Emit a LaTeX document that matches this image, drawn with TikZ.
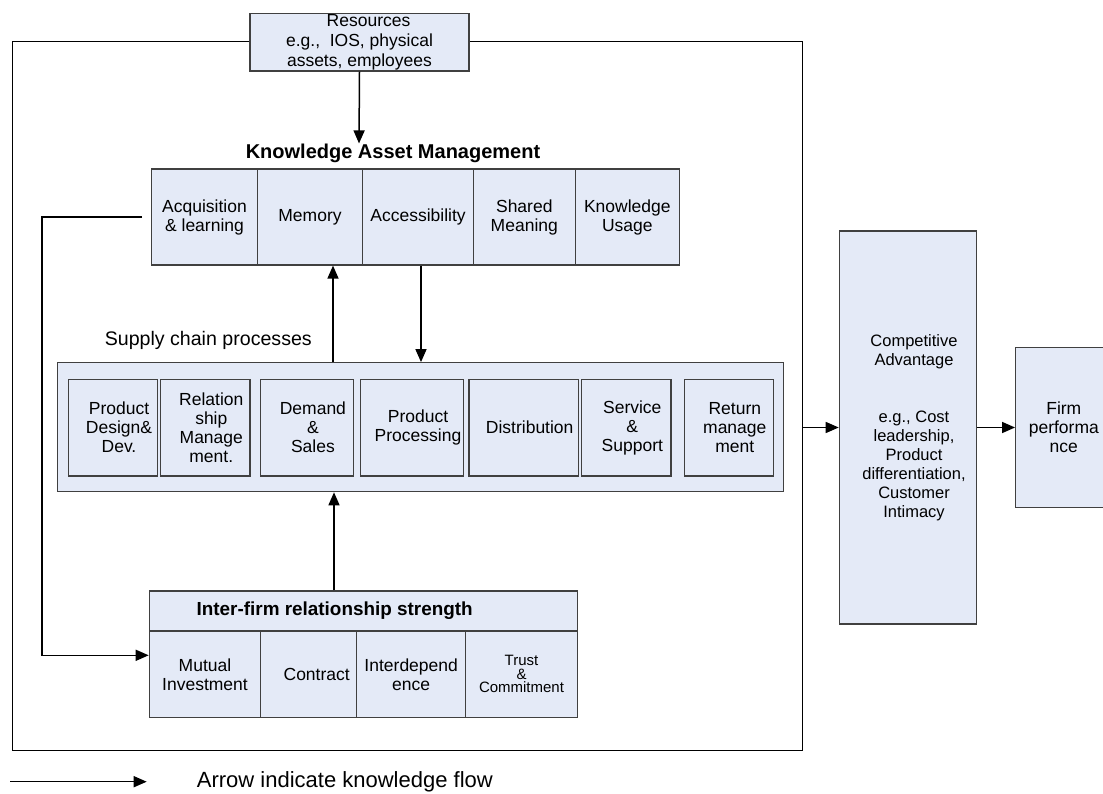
\documentclass[tikz,border=0pt]{standalone}
\usepackage{fontspec}
\setmainfont{Liberation Sans}
\usetikzlibrary{arrows.meta}
\definecolor{boxfill}{RGB}{228,234,247}
\definecolor{boxline}{RGB}{64,64,64}
\begin{document}
\begin{tikzpicture}[x=1pt,y=-1pt,
  cell/.style={draw=boxline, fill=boxfill, line width=1.2pt, inner sep=0pt,
    align=center, font=\fontsize{17.5}{19}\selectfont},
  celltext/.style={align=center, inner sep=0pt, xshift=6pt, font=\fontsize{17.5}{19}\selectfont},
  flow/.style={-{Triangle[length=13pt,width=11pt]}, line width=1.5pt},
  frameline/.style={line width=1pt},
  heading/.style={inner sep=0pt, font=\fontsize{20}{24}\selectfont\bfseries},
  caption/.style={inner sep=0pt, font=\fontsize{19.6}{23}\selectfont},
]
\useasboundingbox (0,0) rectangle (1103,794);

% resources on top of the firm boundary
\node[cell, font=\fontsize{17.5}{20}\selectfont, minimum width=219pt, minimum height=57.7pt]
  (res) at (359.5,42.2) {\hspace*{18pt}Resources\\e.g.,\ \ IOS, physical\\assets, employees};

% firm boundary
\coordinate (ftl) at (12.3,41.7);
\coordinate (fbl) at (12.3,750);
\coordinate (fbr) at (802,750);
\coordinate (ftr) at (802,41.7);
\draw[frameline] (res.west |- ftl) -- (ftl) -- (fbl) -- (fbr) -- (ftr) -- (res.east |- ftr);

% knowledge asset management
\node[heading] (kamt) at (393,153) {Knowledge Asset Management};
\node[cell, minimum width=105.6pt, minimum height=96pt] (acq) at (204.5,217) {Acquisition\\\& learning};
\node[cell, minimum width=105.4pt, minimum height=96pt] (mem) at (310,217) {Memory};
\node[cell, minimum width=110.6pt, minimum height=96pt] (acc) at (418,217) {Accessibility};
\node[cell, minimum width=102pt, minimum height=96pt] (shm) at (524.3,217) {Shared\\Meaning};
\node[cell, minimum width=104pt, minimum height=96pt] (ku) at (627.3,217) {Knowledge\\Usage};

% supply chain processes
\node[caption] (scpt) at (208.3,340) {Supply chain processes};
\node[cell, minimum width=726pt, minimum height=129pt] (scp) at (420.3,427.2) {};
\node[cell, minimum width=89.4pt, minimum height=96.7pt, label={[celltext]center:{Product\\Design\&\\Dev.}}] (pdd) at (113,427.7) {};
\node[cell, minimum width=89.3pt, minimum height=96.7pt, label={[celltext]center:{Relation\\ship\\Manage\\ment.}}] (rsm) at (205.3,427.7) {};
\node[cell, minimum width=92.5pt, minimum height=96.7pt, label={[celltext]center:{Demand\\\&\\Sales}}] (ds) at (306.9,427.7) {};
\node[cell, minimum width=102.6pt, minimum height=96.7pt, label={[celltext]center:{Product\\Processing}}] (pp) at (412,427.7) {};
\node[cell, minimum width=109.3pt, minimum height=96.7pt, label={[celltext]center:{Distribution}}] (dist) at (523.7,427.7) {};
\node[cell, minimum width=89.3pt, minimum height=96.7pt, label={[celltext]center:{Service\\\&\\Support}}] (ss) at (626.3,427.7) {};
\node[cell, minimum width=89pt, minimum height=96.7pt, label={[celltext]center:{Return\\manage\\ment}}] (rm) at (728.8,427.7) {};

% inter-firm relationship strength
\node[cell, minimum width=428pt, minimum height=40pt] (ift) at (363.3,611) {};
\node[heading, font=\fontsize{18.9}{22}\selectfont\bfseries] (iftt) at (334.7,610.7) {Inter-firm relationship strength};
\node[cell, minimum width=111.4pt, minimum height=86.7pt] (mi) at (205,674.3) {Mutual\\Investment};
\node[cell, minimum width=96pt, minimum height=86.7pt] (ct) at (308.7,674.3) {\hspace*{16pt}Contract};
\node[cell, minimum width=109pt, minimum height=86.7pt] (idp) at (411.2,674.3) {Interdepend\\ence};
\node[cell, font=\fontsize{15}{13.5}\selectfont, minimum width=111.6pt, minimum height=86.7pt] (tc) at (521.5,674.3) {Trust\\\&\\Commitment};

% outcomes
\node[cell, minimum width=137.4pt, minimum height=393pt,
  label={[celltext, font=\fontsize{16.5}{19}\selectfont]center:{Competitive\\Advantage\\[38pt]e.g., Cost\\leadership,\\Product\\differentiation,\\Customer\\Intimacy}}]
  (ca) at (908,427.5) {};
\node[cell, minimum width=96.3pt, minimum height=160.4pt] (firm) at (1063.8,427.5) {Firm\\performa\\nce};

% knowledge flows
\draw[flow] (res.south) -- (359,0 |- kamt.north);
\draw[flow] (333,0 |- scp.north) -- (333,0 |- mem.south);
\draw[flow] (421,0 |- acc.south) -- (421,0 |- scp.north);
\draw[flow] (334,0 |- ift.north) -- (334,0 |- scp.south);
\coordinate (miin) at ([yshift=19pt]mi.west);
\draw[flow] ([xshift=-9pt]acq.west) -- (42,0 |- acq.west) -- (42,0 |- miin) -- (miin);
\draw[flow] (ca.west -| fbr) -- (ca.west);
\draw[flow] (ca.east) -- (firm.west);

% legend
\coordinate (lg0) at (10,781.7);
\coordinate (lg1) at (146.7,781.7);
\draw[flow] (lg0) -- (lg1);
\node[caption, font=\fontsize{22}{26}\selectfont, anchor=west] (lgt) at (196.7,781.7) {Arrow indicate knowledge flow};
\end{tikzpicture}
\end{document}
